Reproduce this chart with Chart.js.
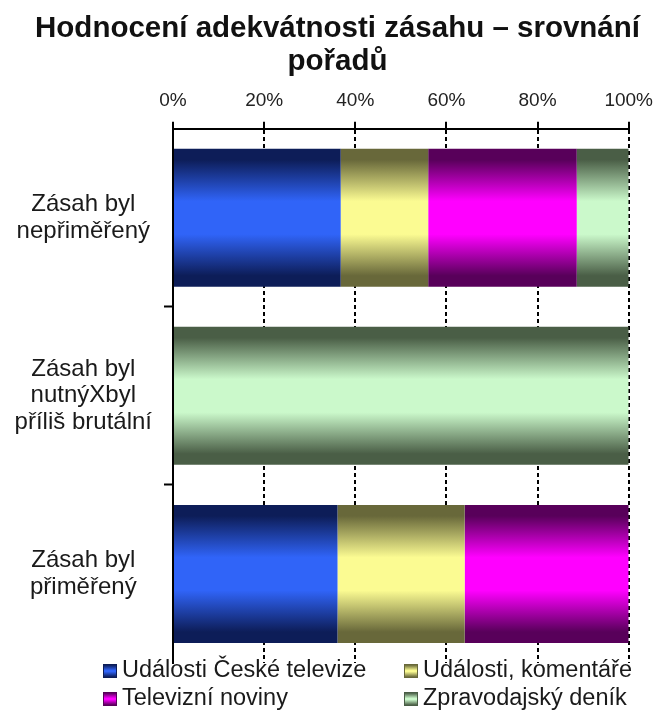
<!DOCTYPE html>
<html>
<head>
<meta charset="utf-8">
<script src="https://cdn.jsdelivr.net/npm/chart.js@4/dist/chart.umd.min.js"></script>
<style>
  html, body { margin: 0; padding: 0; background: #fff; overflow: hidden; }
  #wrap { position: relative; width: 663px; height: 713px; overflow: hidden; }
  #legend { position: absolute; left: 0; top: 655px; width: 663px;
            font-family: "Liberation Sans", Arial, sans-serif; font-size: 23.5px; color: #1a1a1a; }
  .item { position: absolute; height: 28px; line-height: 28px; white-space: nowrap; }
  .sw { display: inline-block; width: 14px; height: 14px; margin-right: 5px; vertical-align: -1px;
        box-sizing: border-box; }
</style>
</head>
<body>
<div id="wrap">
  <canvas id="c" width="663" height="713"></canvas>
  <div id="legend"></div>
</div>
<script>
// ---- data ----
const categories = [
  ["Zásah byl", "nepřiměřený"],
  ["Zásah byl", "nutnýXbyl", "příliš brutální"],
  ["Zásah byl", "přiměřený"]
];
const seriesNames = ["Události České televize", "Události, komentáře", "Televizní noviny", "Zpravodajský deník"];
const udalostiCT = [36.8, 0, 36.1];
const udalostiKomentare = [19.2, 0, 27.9];
const televizniNoviny = [32.6, 0, 36.0];
const zpravodajskyDenik = [11.4, 100, 0];
const xTickValues = [0, 20, 40, 60, 80, 100];
const titleLines = ["Hodnocení adekvátnosti zásahu – srovnání", "pořadů"];

// ---- styles ----
const palette = [
  { dark: "#0d1d58", light: "#3064f8" },
  { dark: "#68683a", light: "#fbfb92" },
  { dark: "#58005a", light: "#ff00ff" },
  { dark: "#4a5e46", light: "#cbf9cb" }
];
const FONT = '"Liberation Sans", Arial, sans-serif';
const BAR_PCT = 0.775;

function barGradient(ctx, pal) {
  const chart = ctx.chart;
  const y = chart.scales && chart.scales.y;
  if (!y || ctx.dataIndex === undefined || !y.height) return pal.light;
  const c = y.getPixelForValue(ctx.dataIndex);
  const h = (y.height / categories.length) * BAR_PCT;
  const top = c - h / 2, bot = c + h / 2;
  const g = chart.ctx.createLinearGradient(0, top, 0, bot);
  g.addColorStop(0, pal.dark);
  g.addColorStop(0.08, pal.dark);
  g.addColorStop(0.38, pal.light);
  g.addColorStop(0.62, pal.light);
  g.addColorStop(0.92, pal.dark);
  g.addColorStop(1, pal.dark);
  return g;
}

const seriesValues = [udalostiCT, udalostiKomentare, televizniNoviny, zpravodajskyDenik];
const datasets = seriesNames.map((name, i) => ({
  label: name,
  data: seriesValues[i],
  backgroundColor: (ctx) => barGradient(ctx, palette[i]),
  borderWidth: 0,
  barPercentage: BAR_PCT,
  categoryPercentage: 1.0
}));

new Chart(document.getElementById("c"), {
  type: "bar",
  data: { labels: categories, datasets },
  options: {
    indexAxis: "y",
    responsive: false,
    devicePixelRatio: 1,
    animation: false,
    layout: { padding: { left: 12, right: 0, top: 0, bottom: 50 } },
    plugins: {
      legend: { display: false },
      tooltip: { enabled: false },
      title: {
        display: true,
        text: titleLines,
        color: "#111",
        font: { family: FONT, size: 29.5, weight: "bold", lineHeight: 1.1 },
        padding: { top: 13, bottom: 1 }
      }
    },
    scales: {
      x: {
        position: "top",
        stacked: true,
        min: 0,
        max: 100,
        afterBuildTicks: (scale) => { scale.ticks = xTickValues.map(v => ({ value: v })); },
        ticks: {
          callback: (v) => v + "%",
          color: "#222",
          font: { family: FONT, size: 19 },
          padding: 10
        },
        grid: {
          color: "#000",
          lineWidth: 2,
          tickLength: 7,
          tickColor: "#000",
          tickWidth: 2,
          tickBorderDash: []
        },
        border: { display: true, color: "#000", width: 2, dash: [4, 3] }
      },
      y: {
        stacked: true,
        afterFit: (scale) => { scale.width = 161; },
        ticks: {
          color: "#1a1a1a",
          font: { family: FONT, size: 24, lineHeight: 1.12 },
          crossAlign: "center",
          padding: 12
        },
        grid: {
          drawOnChartArea: false,
          drawTicks: true,
          tickLength: 9,
          tickWidth: 2,
          offset: true,
          color: "transparent",
          tickColor: (ctx) => (ctx.type === "tick" && (ctx.index === 1 || ctx.index === 2)) ? "#000" : "transparent"
        },
        border: { display: true, color: "#000", width: 2 }
      },
      yRightSpace: {
        type: "category",
        position: "right",
        display: true,
        afterFit: (scale) => { scale.width = 32; },
        ticks: { display: false },
        grid: { display: false, drawOnChartArea: false },
        border: { display: false }
      }
    }
  }
});

// ---- legend (two columns) ----
const legendPos = [
  { left: 103, top: 0 }, { left: 404, top: 0 },
  { left: 103, top: 28 }, { left: 404, top: 28 }
];
const legendEl = document.getElementById("legend");
seriesNames.forEach((name, i) => {
  const it = document.createElement("div");
  it.className = "item";
  it.style.left = legendPos[i].left + "px";
  it.style.top = legendPos[i].top + "px";
  const sw = document.createElement("span");
  sw.className = "sw";
  sw.style.background = `linear-gradient(to bottom, ${palette[i].dark} 0%, ${palette[i].light} 45%, ${palette[i].light} 55%, ${palette[i].dark} 100%)`;
  sw.style.border = `1px solid ${palette[i].dark}`;
  it.appendChild(sw);
  it.appendChild(document.createTextNode(name));
  legendEl.appendChild(it);
});
</script>
</body>
</html>
